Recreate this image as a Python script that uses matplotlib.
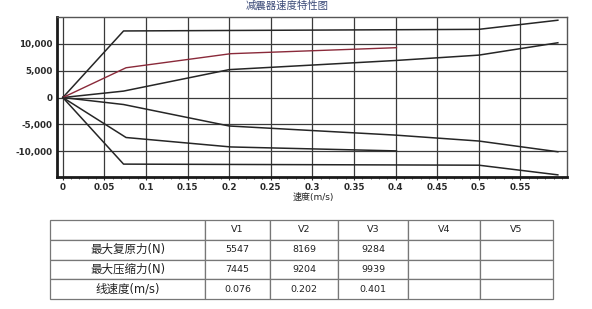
import matplotlib
matplotlib.use("Agg")
import matplotlib.pyplot as plt
import numpy as np
from matplotlib.ticker import MultipleLocator, FuncFormatter

plt.rcParams['font.family'] = ['DejaVu Sans', 'Noto Sans CJK SC']

# ---- data ----
title = "减震器速度特性图"
xlabel = "速度(m/s)"

v_points = [0, 0.076, 0.202, 0.401]
restore_force = [0, 5547, 8169, 9284]
compress_force = [0, -7445, -9204, -9939]

outer_x = [0, 0.073, 0.5, 0.595]
outer_upper = [0, 12400, 12700, 14400]
outer_lower = [0, -12400, -12600, -14400]

inner_x = [0, 0.073, 0.2, 0.4, 0.5, 0.595]
inner_upper = [0, 1200, 5200, 6900, 7900, 10200]
inner_lower = [0, -1300, -5300, -7000, -8100, -10100]

col_labels = ["", "V1", "V2", "V3", "V4", "V5"]
row_labels = ["最大复原力(N)", "最大压缩力(N)", "线速度(m/s)"]
row_restore = ["5547", "8169", "9284", "", ""]
row_compress = ["7445", "9204", "9939", "", ""]
row_speed = ["0.076", "0.202", "0.401", "", ""]

W, H = 592, 309
fig = plt.figure(figsize=(W / 100, H / 100), dpi=100)

def fx(px):
    return px / W

def fy(py):
    return 1 - py / H

ax_l, ax_r, ax_t, ax_b = 57, 567, 17, 177
ax = fig.add_axes([fx(ax_l), fy(ax_b), fx(ax_r - ax_l), (ax_b - ax_t) / H])

line_c = "#262626"
ax.plot(outer_x, outer_upper, color=line_c, lw=1.1, zorder=3)
ax.plot(outer_x, outer_lower, color=line_c, lw=1.1, zorder=3)
ax.plot(inner_x, inner_upper, color=line_c, lw=1.1, zorder=3)
ax.plot(inner_x, inner_lower, color=line_c, lw=1.1, zorder=3)
ax.plot(v_points, restore_force, color="#8a2a3a", lw=1.0, zorder=3)
ax.plot(v_points, compress_force, color=line_c, lw=1.1, zorder=3)

ax.set_xlim(-0.007, 0.606)
ax.set_ylim(-14800, 15000)
ax.xaxis.set_minor_locator(MultipleLocator(0.01))
ax.set_yticks([-10000, -5000, 0, 5000, 10000])
ax.set_xticks(np.arange(0, 0.56, 0.05))
ax.xaxis.set_major_formatter(FuncFormatter(lambda v, p: "0" if abs(v) < 1e-9 else ("%.2f" % v).rstrip("0")))
ax.yaxis.set_major_formatter(FuncFormatter(lambda v, p: "{:,.0f}".format(v)))
ax.grid(True, which="major", color="#3a3a3a", lw=0.9)
ax.tick_params(axis="both", which="major", labelsize=6.3, length=2.5, width=0.8, pad=1.5,
               colors="#2a2a2a")
ax.tick_params(axis="x", which="minor", length=1.5, width=0.6, colors="#444")
ax.tick_params(axis="y", which="major", length=0, pad=3)
for lbl in ax.get_xticklabels() + ax.get_yticklabels():
    lbl.set_fontweight("bold")
for side in ["left", "bottom"]:
    ax.spines[side].set_linewidth(2.0)
    ax.spines[side].set_color("#1a1a1a")
for side in ["top", "right"]:
    ax.spines[side].set_linewidth(1.0)
    ax.spines[side].set_color("#555")

fig.text(fx(287), fy(6), title, fontsize=7.5, color="#3b4a78", ha="center", va="center")
fig.text(fx(313), fy(197), xlabel, fontsize=6.5, color="#222", ha="center", va="center")

# ---- table ----
tab_l, tab_r, tab_t, tab_b = 50, 553, 220, 299
tax = fig.add_axes([fx(tab_l), fy(tab_b), fx(tab_r - tab_l), (tab_b - tab_t) / H])
tax.axis("off")
cell_text = [col_labels,
             [row_labels[0]] + row_restore,
             [row_labels[1]] + row_compress,
             [row_labels[2]] + row_speed]
col_px = [155, 65, 68, 70, 72, 73]
tot = sum(col_px)
tbl = tax.table(cellText=cell_text, colWidths=[c / tot for c in col_px],
                cellLoc="center", loc="center", bbox=[0, 0, 1, 1])
tbl.auto_set_font_size(False)
for (r, c), cell in tbl.get_celld().items():
    cell.set_edgecolor("#777")
    cell.set_linewidth(0.9)
    t = cell.get_text()
    t.set_color("#222")
    if c == 0 and r > 0:
        t.set_fontsize(8.3)
    else:
        t.set_fontsize(6.8)

fig.savefig("out.png", dpi=100)
